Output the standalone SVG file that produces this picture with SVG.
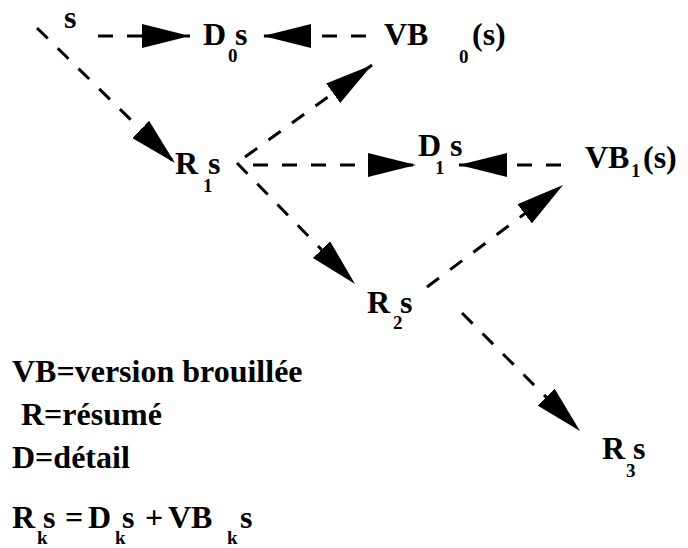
<svg xmlns="http://www.w3.org/2000/svg" width="688" height="548" viewBox="0 0 688 548">
<style>
  text { font-family: "Liberation Serif", "Times New Roman", serif; font-weight: bold; fill: #000; }
  .m { font-size: 32px; }
  .sub { font-size: 19px; }
  .c line { stroke: #000; stroke-width: 3; stroke-dasharray: 15 14; fill: none; marker-end: url(#ah); }
</style>
<defs>
  <marker id="ah" viewBox="0 0 48 24" refX="48" refY="12" markerWidth="48" markerHeight="24" markerUnits="userSpaceOnUse" orient="auto">
    <path d="M0,0 L48,12 L0,24 Z" fill="#000"/>
  </marker>
</defs>
<rect width="688" height="548" fill="#fff"/>
<g id="connectors" class="c">
  <line x1="37" y1="28" x2="175" y2="163"/>
  <line x1="98" y1="36" x2="190" y2="36"/>
  <line x1="366" y1="36" x2="263" y2="36"/>
  <line x1="245" y1="157" x2="372" y2="65"/>
  <line x1="253" y1="165" x2="416" y2="165"/>
  <line x1="561" y1="165" x2="459" y2="165"/>
  <line x1="237" y1="163" x2="355" y2="284"/>
  <line x1="427" y1="287" x2="563" y2="185"/>
  <line x1="462" y1="313" x2="580" y2="431"/>
</g>
<g id="node-s"><text class="m" x="64" y="28">s</text></g>
<g id="node-D0s"><text class="m" x="203" y="45">D</text><text class="sub" x="228" y="62">0</text><text class="m" x="235" y="45">s</text></g>
<g id="node-VB0s"><text class="m" x="384" y="45">VB</text><text class="sub" x="459" y="63">0</text><text class="m" x="472" y="45">(s)</text></g>
<g id="node-R1s"><text class="m" x="175" y="174">R</text><text class="sub" x="203" y="192">1</text><text class="m" x="208" y="174">s</text></g>
<g id="node-D1s"><text class="m" x="418" y="156">D</text><text class="sub" x="435" y="174">1</text><text class="m" x="450" y="156">s</text></g>
<g id="node-VB1s"><text class="m" x="585" y="168">VB</text><text class="sub" x="631" y="177">1</text><text class="m" x="643" y="168">(s)</text></g>
<g id="node-R2s"><text class="m" x="367" y="313">R</text><text class="sub" x="393" y="329">2</text><text class="m" x="400" y="313">s</text></g>
<g id="node-R3s"><text class="m" x="602" y="459">R</text><text class="sub" x="626" y="477">3</text><text class="m" x="633" y="459">s</text></g>
<g id="legend">
  <text class="m" x="12" y="382">VB=version brouillée</text>
  <text class="m" x="21" y="425">R=résumé</text>
  <text class="m" x="12" y="468">D=détail</text>
  <text class="m" x="12" y="528">R</text><text class="sub" x="37" y="544">k</text><text class="m" x="43" y="528">s</text>
  <text class="m" x="65" y="528">=</text>
  <text class="m" x="88" y="528">D</text><text class="sub" x="115" y="544">k</text><text class="m" x="122" y="528">s</text>
  <text class="m" x="145" y="528">+</text>
  <text class="m" x="168" y="528">VB</text><text class="sub" x="227" y="544">k</text><text class="m" x="240" y="528">s</text>
</g>
</svg>
